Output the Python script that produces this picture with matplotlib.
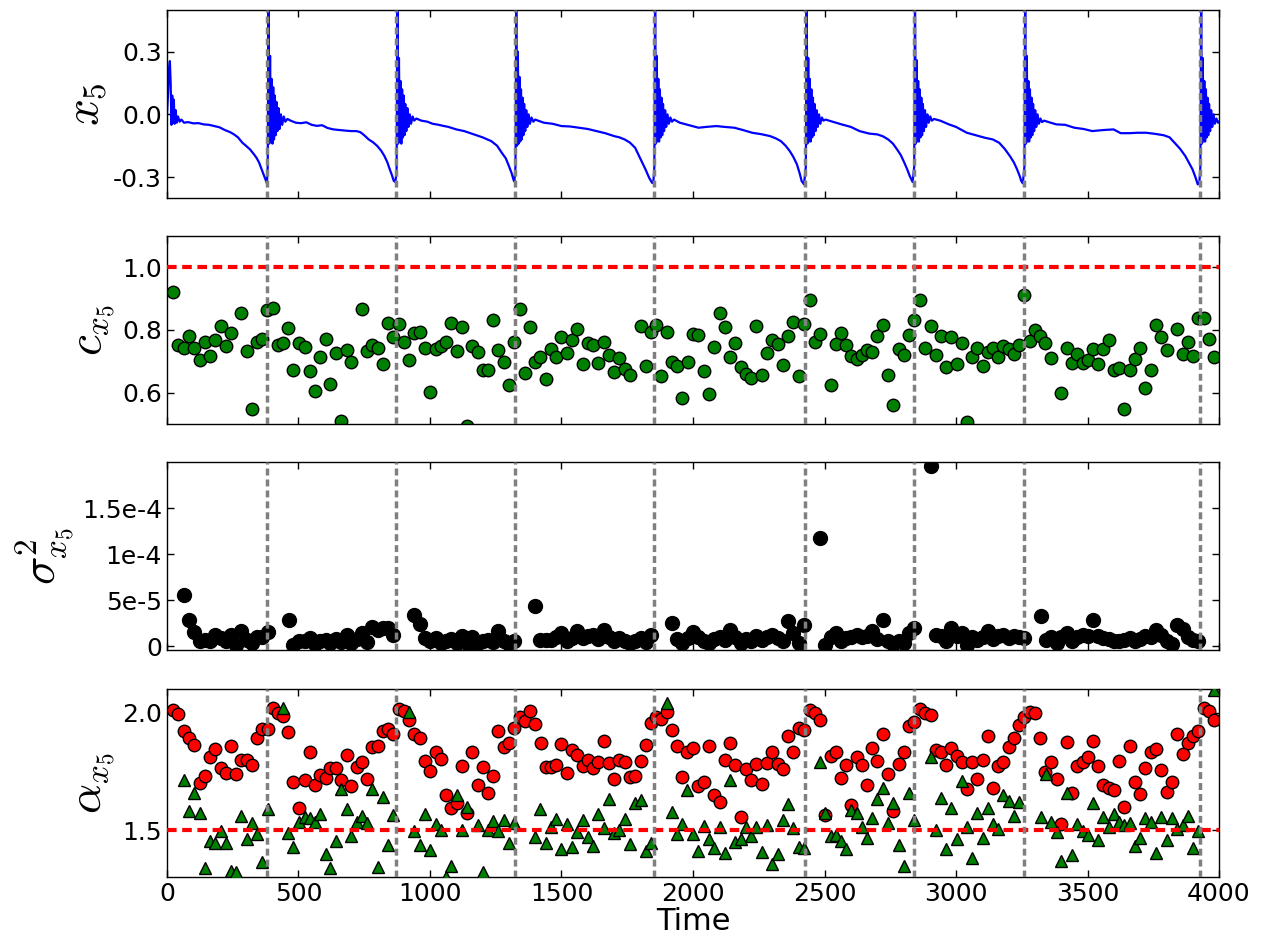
import numpy as np
import matplotlib
matplotlib.use("Agg")
from matplotlib import pyplot as plt
from matplotlib.ticker import FixedLocator, FixedFormatter

# Switching times (grey dashed lines)
switch_t = [380, 871, 1323, 1851, 2427, 2839, 3258, 3927]

# x_5 trajectory
x5_t = [0, 4, 8, 11, 14, 17, 20, 23, 26, 29, 33, 37, 42, 48, 55, 65, 80, 100, 120, 140,
        160, 180, 200, 220, 240, 255, 270, 287, 300, 316, 330, 340, 350, 360, 368, 376, 380,
        383, 386, 389, 392, 395, 398, 401, 404, 407, 410, 413, 416, 420, 424, 428, 433, 438, 444, 450, 458,
        470, 490, 510, 530, 550, 570, 590, 610, 633, 655, 680, 700, 720, 735, 750, 767, 785, 800, 815,
        827, 838, 847, 855, 862, 868,
        873, 876, 879, 882, 885, 888, 891, 894, 897, 900, 903, 906, 910, 914, 918, 923, 928, 934, 940, 948,
        967, 990, 1010, 1033, 1050, 1070, 1100, 1130, 1167, 1200, 1233, 1255, 1273, 1288, 1300, 1310, 1318, 1321,
        1325, 1328, 1331, 1334, 1337, 1340, 1343, 1346, 1349, 1352, 1355, 1358, 1362, 1366, 1370, 1375, 1380,
        1386, 1393, 1400,
        1433, 1466, 1500, 1533, 1567, 1600, 1633, 1666, 1700, 1720, 1740, 1760, 1780, 1795, 1807, 1820, 1833,
        1844, 1849,
        1853, 1856, 1859, 1862, 1865, 1868, 1871, 1874, 1877, 1880, 1883, 1886, 1890, 1894, 1898, 1903, 1908,
        1914, 1920, 1928,
        1950, 1980, 2021, 2050, 2089, 2120, 2157, 2190, 2225, 2260, 2293, 2315, 2334, 2352, 2368, 2382, 2395,
        2405, 2413, 2422,
        2429, 2432, 2435, 2438, 2441, 2444, 2447, 2450, 2453, 2456, 2459, 2462, 2466, 2470, 2474, 2479, 2484,
        2490, 2496, 2504,
        2530, 2565, 2600, 2633, 2670, 2701, 2722, 2742, 2760, 2776, 2790, 2803, 2815, 2824, 2835,
        2841, 2844, 2847, 2850, 2853, 2856, 2859, 2862, 2865, 2868, 2871, 2874, 2878, 2882, 2886, 2891, 2896,
        2902, 2908, 2916,
        2940, 2973, 3000, 3041, 3075, 3110, 3140, 3164, 3185, 3205, 3220, 3232, 3242, 3248, 3254,
        3260, 3263, 3266, 3269, 3272, 3275, 3278, 3281, 3284, 3287, 3290, 3293, 3297, 3301, 3305, 3310, 3315,
        3321, 3327, 3335,
        3360, 3382, 3415, 3450, 3485, 3518, 3560, 3599, 3626, 3660, 3690, 3722, 3755, 3790, 3812, 3831, 3852,
        3872, 3887, 3899, 3910, 3919, 3925,
        3929, 3932, 3935, 3938, 3941, 3944, 3947, 3950, 3953, 3956, 3959, 3962, 3966, 3970, 3974, 3979, 3984,
        3990, 3996, 4000]
x5_v = [0.0, 0.10, 0.22, 0.255, 0.15, -0.05, 0.09, -0.04, 0.07, -0.045, 0.02, -0.04, -0.01, -0.035, -0.025,
        -0.04, -0.037, -0.043, -0.042, -0.048, -0.05, -0.056, -0.062, -0.075, -0.085, -0.096, -0.11, -0.136,
        -0.15, -0.168, -0.19, -0.207, -0.23, -0.263, -0.29, -0.315, -0.33,
        -0.25, 0.6, -0.14, 0.28, -0.13, 0.17, -0.14, 0.13, -0.12, 0.09, -0.10, 0.06, -0.08, 0.03, -0.07, 0.0,
        -0.05, -0.01, -0.035, -0.022,
        -0.03, -0.04, -0.042, -0.038, -0.05, -0.055, -0.052, -0.065, -0.072, -0.075, -0.078, -0.08, -0.08,
        -0.085, -0.10, -0.12, -0.135, -0.152, -0.175, -0.20, -0.23, -0.263, -0.29, -0.318, -0.324,
        -0.28, 0.6, -0.14, 0.27, -0.13, 0.16, -0.14, 0.12, -0.11, 0.09, -0.10, 0.05, -0.08, 0.03, -0.06, 0.0,
        -0.045, -0.01, -0.03, -0.02,
        -0.03, -0.035, -0.045, -0.05, -0.055, -0.06, -0.072, -0.08, -0.096, -0.11, -0.128, -0.15, -0.184, -0.21,
        -0.247, -0.28, -0.315, -0.322,
        -0.25, 0.6, -0.15, 0.3, -0.14, 0.18, -0.13, 0.12, -0.12, 0.08, -0.10, 0.05, -0.08, 0.02, -0.06, 0.0,
        -0.045, -0.015, -0.035, -0.025,
        -0.04, -0.045, -0.056, -0.058, -0.064, -0.07, -0.08, -0.09, -0.104, -0.11, -0.12, -0.135, -0.16, -0.2,
        -0.231, -0.265, -0.303, -0.327, -0.33,
        -0.25, 0.6, -0.14, 0.28, -0.13, 0.17, -0.13, 0.12, -0.11, 0.08, -0.10, 0.05, -0.08, 0.02, -0.06, 0.0,
        -0.045, -0.015, -0.035, -0.025,
        -0.04, -0.05, -0.064, -0.06, -0.056, -0.06, -0.064, -0.075, -0.088, -0.095, -0.104, -0.115, -0.128,
        -0.15, -0.176, -0.205, -0.239, -0.28, -0.319, -0.335,
        -0.25, 0.6, -0.14, 0.27, -0.13, 0.17, -0.13, 0.12, -0.11, 0.08, -0.10, 0.05, -0.08, 0.02, -0.06, 0.0,
        -0.045, -0.015, -0.03, -0.025,
        -0.035, -0.048, -0.06, -0.08, -0.092, -0.096, -0.105, -0.12, -0.14, -0.168, -0.195, -0.23, -0.265,
        -0.295, -0.324,
        -0.25, 0.6, -0.14, 0.26, -0.13, 0.16, -0.13, 0.12, -0.11, 0.08, -0.10, 0.05, -0.08, 0.02, -0.06, 0.0,
        -0.04, -0.01, -0.03, -0.022,
        -0.03, -0.048, -0.06, -0.088, -0.10, -0.112, -0.12, -0.136, -0.165, -0.2, -0.23, -0.263, -0.295,
        -0.319, -0.33,
        -0.25, 0.6, -0.14, 0.28, -0.13, 0.16, -0.13, 0.12, -0.11, 0.08, -0.10, 0.05, -0.08, 0.02, -0.06, 0.0,
        -0.045, -0.02, -0.037, -0.03,
        -0.04, -0.048, -0.05, -0.064, -0.07, -0.08, -0.075, -0.072, -0.09, -0.09, -0.088, -0.088, -0.093, -0.10,
        -0.11, -0.136, -0.165, -0.2, -0.235, -0.263, -0.30, -0.335, -0.33,
        -0.25, 0.6, -0.14, 0.27, -0.13, 0.16, -0.13, 0.12, -0.11, 0.08, -0.10, 0.05, -0.08, 0.02, -0.06, 0.0,
        -0.045, -0.02, -0.04, -0.035]

# c_{x_5}
c_t = [23, 43, 63, 84, 104, 124, 143, 164, 184, 204, 224, 244, 283, 303, 323, 343, 363, 381, 403, 423,
       443, 461, 481, 501, 523, 543, 564, 583, 603, 621, 643, 661, 683, 701, 741, 761, 781, 803, 823, 841,
       861, 881, 901, 921, 941, 961, 981, 1000, 1021, 1041, 1060, 1081, 1103, 1123, 1140, 1161, 1181, 1201,
       1221, 1241, 1260, 1281, 1300, 1321, 1341, 1361, 1381, 1400, 1420, 1440, 1461, 1480, 1500, 1520, 1540,
       1560, 1580, 1599, 1620, 1639, 1660, 1679, 1699, 1720, 1741, 1761, 1801, 1820, 1840, 1860, 1880, 1900,
       1920, 1940, 1960, 1980, 2000, 2020, 2040, 2060, 2081, 2101, 2120, 2142, 2161, 2181, 2202, 2221, 2241,
       2262, 2282, 2301, 2322, 2342, 2363, 2382, 2402, 2421, 2443, 2462, 2482, 2523, 2542, 2563, 2582, 2602,
       2622, 2643, 2662, 2682, 2701, 2722, 2742, 2761, 2782, 2802, 2821, 2841, 2862, 2881, 2903, 2922, 2942,
       2961, 2982, 3002, 3022, 3041, 3062, 3081, 3101, 3120, 3141, 3161, 3180, 3200, 3221, 3240, 3259, 3281,
       3300, 3320, 3339, 3361, 3401, 3421, 3440, 3460, 3481, 3500, 3520, 3541, 3560, 3580, 3599, 3621, 3640,
       3661, 3681, 3701, 3720, 3742, 3761, 3781, 3802, 3841, 3862, 3881, 3902, 3920, 3941, 3961, 3980]
c_v = [0.921, 0.753, 0.742, 0.780, 0.742, 0.705, 0.762, 0.716, 0.769, 0.812, 0.749, 0.789, 0.854, 0.734,
       0.547, 0.761, 0.772, 0.864, 0.871, 0.751, 0.759, 0.807, 0.671, 0.759, 0.745, 0.668, 0.604, 0.715,
       0.772, 0.627, 0.727, 0.510, 0.737, 0.699, 0.867, 0.733, 0.751, 0.744, 0.690, 0.821, 0.777, 0.818,
       0.762, 0.703, 0.789, 0.793, 0.742, 0.602, 0.738, 0.749, 0.762, 0.822, 0.733, 0.809, 0.494, 0.749,
       0.730, 0.672, 0.673, 0.832, 0.736, 0.699, 0.625, 0.763, 0.867, 0.663, 0.811, 0.698, 0.714, 0.645,
       0.740, 0.715, 0.777, 0.728, 0.769, 0.802, 0.692, 0.759, 0.752, 0.694, 0.763, 0.720, 0.666, 0.710,
       0.674, 0.655, 0.812, 0.685, 0.795, 0.815, 0.652, 0.794, 0.699, 0.685, 0.584, 0.699, 0.786, 0.784,
       0.670, 0.597, 0.745, 0.853, 0.809, 0.715, 0.760, 0.682, 0.658, 0.647, 0.814, 0.656, 0.727, 0.767,
       0.754, 0.688, 0.782, 0.827, 0.653, 0.818, 0.895, 0.761, 0.786, 0.624, 0.756, 0.789, 0.752, 0.716,
       0.707, 0.720, 0.737, 0.729, 0.782, 0.815, 0.656, 0.560, 0.738, 0.719, 0.785, 0.833, 0.896, 0.742,
       0.813, 0.719, 0.780, 0.682, 0.778, 0.691, 0.759, 0.505, 0.714, 0.743, 0.685, 0.731, 0.743, 0.715,
       0.749, 0.740, 0.722, 0.751, 0.912, 0.764, 0.801, 0.780, 0.759, 0.709, 0.600, 0.743, 0.695, 0.723,
       0.695, 0.703, 0.738, 0.692, 0.738, 0.769, 0.673, 0.680, 0.547, 0.673, 0.706, 0.742, 0.616, 0.673,
       0.815, 0.778, 0.735, 0.804, 0.722, 0.763, 0.717, 0.838, 0.839, 0.771, 0.714]

# sigma^2_{x_5}, in units of 1e-5
var_t = [63, 84, 104, 124, 143, 164, 184, 204, 224, 244, 264, 283, 303, 323, 343, 363, 383, 463, 481, 501,
         523, 543, 564, 583, 603, 621, 643, 661, 683, 701, 721, 741, 761, 781, 803, 823, 841, 861, 941, 961,
         981, 1000, 1021, 1041, 1060, 1081, 1103, 1123, 1143, 1161, 1181, 1201, 1221, 1241, 1260, 1281, 1300,
         1321, 1401, 1420, 1440, 1461, 1480, 1500, 1520, 1540, 1560, 1580, 1599, 1620, 1639, 1660, 1679, 1699,
         1720, 1741, 1761, 1781, 1801, 1820, 1840, 1920, 1940, 1960, 1980, 2000, 2020, 2040, 2062, 2081, 2101,
         2120, 2142, 2161, 2181, 2202, 2221, 2241, 2262, 2282, 2301, 2322, 2342, 2363, 2382, 2402, 2421, 2482,
         2503, 2523, 2542, 2563, 2582, 2602, 2622, 2643, 2662, 2682, 2701, 2722, 2742, 2761, 2782, 2802, 2821,
         2841, 2903, 2922, 2942, 2961, 2982, 3002, 3022, 3041, 3062, 3081, 3101, 3120, 3141, 3161, 3180, 3200,
         3221, 3240, 3259, 3322, 3341, 3361, 3382, 3401, 3421, 3440, 3460, 3481, 3500, 3520, 3541, 3560, 3580,
         3599, 3621, 3640, 3661, 3681, 3701, 3720, 3742, 3761, 3781, 3802, 3821, 3841, 3862, 3881, 3902, 3920]
var_v = [5.62, 2.83, 1.56, 0.54, 0.72, 0.54, 1.27, 0.90, 0.60, 1.27, 0.20, 1.63, 0.72, 0.36, 0.98, 0.98,
         1.56, 2.90, 0.18, 0.54, 0.60, 0.90, 0.25, 0.60, 0.72, 0.36, 0.83, 0.47, 1.27, 0.36, 0.83, 1.45, 0.47,
         2.07, 1.81, 1.99, 1.99, 1.20, 3.37, 2.43, 0.90, 0.54, 0.90, 0.36, 0.54, 0.83, 0.36, 1.09, 0.25, 0.98,
         0.36, 0.54, 0.72, 0.47, 1.70, 0.54, 0.25, 0.54, 4.42, 0.72, 0.72, 0.72, 0.98, 1.45, 0.60, 0.90, 1.70,
         0.90, 1.09, 1.27, 0.83, 1.81, 0.98, 0.60, 0.90, 0.54, 0.36, 0.54, 0.90, 0.47, 1.20, 2.54, 0.83, 0.36,
         0.90, 1.56, 0.98, 0.54, 0.36, 0.83, 0.98, 0.72, 1.81, 0.98, 0.36, 0.83, 0.54, 1.09, 0.72, 0.98, 1.20,
         0.90, 0.54, 2.72, 1.45, 0.36, 2.36, 11.8, 0.18, 0.98, 1.45, 0.54, 0.90, 0.98, 1.27, 0.98, 1.09, 1.63,
         0.83, 2.90, 0.60, 0.25, 0.54, 0.36, 1.45, 1.99, 19.6, 1.27, 1.09, 0.54, 1.99, 1.09, 1.45, 0.18, 0.98,
         0.72, 0.98, 1.63, 0.83, 1.09, 1.27, 0.90, 1.09, 0.98, 0.90, 3.33, 0.72, 0.98, 0.36, 0.98, 1.45, 0.54,
         0.98, 1.27, 1.09, 2.83, 1.09, 0.90, 0.83, 0.54, 0.60, 0.72, 0.90, 0.54, 0.83, 1.09, 0.98, 1.81, 1.27,
         0.54, 0.25, 2.36, 1.92, 0.98, 0.72, 0.54]

# alpha_{x_5}: red circles
alpha_t = [23, 43, 63, 84, 104, 124, 143, 164, 184, 204, 224, 244, 264, 283, 303, 323, 343, 363, 383, 403,
           423, 443, 461, 481, 501, 523, 543, 564, 583, 603, 621, 643, 661, 683, 701, 721, 741, 761, 781, 803,
           823, 841, 861, 881, 901, 921, 941, 961, 981, 1000, 1021, 1041, 1060, 1081, 1103, 1121, 1141, 1161,
           1181, 1201, 1221, 1241, 1260, 1281, 1300, 1321, 1341, 1361, 1381, 1401, 1421, 1440, 1461, 1480, 1500,
           1520, 1540, 1560, 1580, 1599, 1620, 1639, 1660, 1679, 1699, 1720, 1741, 1761, 1781, 1801, 1820, 1840,
           1860, 1880, 1901, 1920, 1940, 1960, 1979, 1999, 2020, 2040, 2062, 2081, 2101, 2120, 2142, 2161, 2181,
           2202, 2221, 2241, 2262, 2282, 2301, 2322, 2342, 2363, 2382, 2402, 2421, 2443, 2462, 2482, 2503, 2523,
           2542, 2563, 2582, 2602, 2622, 2643, 2662, 2682, 2701, 2722, 2742, 2761, 2782, 2802, 2821, 2841, 2862,
           2881, 2903, 2922, 2942, 2961, 2982, 3002, 3022, 3041, 3062, 3081, 3101, 3120, 3141, 3161, 3180, 3200,
           3221, 3240, 3259, 3281, 3300, 3320, 3339, 3361, 3382, 3401, 3421, 3440, 3460, 3481, 3500, 3520, 3541,
           3560, 3580, 3599, 3621, 3640, 3661, 3681, 3701, 3720, 3741, 3761, 3781, 3802, 3821, 3841, 3862, 3881,
           3902, 3920, 3941, 3961, 3980]
alpha_v = [2.011, 1.994, 1.923, 1.892, 1.862, 1.700, 1.732, 1.811, 1.846, 1.764, 1.742, 1.858, 1.739, 1.799,
           1.799, 1.777, 1.890, 1.930, 1.932, 2.018, 2.000, 1.986, 1.916, 1.704, 1.595, 1.714, 1.832, 1.693,
           1.735, 1.721, 1.764, 1.764, 1.711, 1.820, 1.686, 1.770, 1.791, 1.718, 1.855, 1.858, 1.920, 1.930,
           1.909, 2.014, 2.008, 1.969, 1.909, 1.892, 1.795, 1.753, 1.832, 1.802, 1.648, 1.592, 1.616, 1.774,
           1.571, 1.834, 1.690, 1.767, 1.659, 1.732, 1.920, 1.853, 1.872, 1.934, 1.979, 1.965, 2.007, 1.953,
           1.872, 1.770, 1.770, 1.778, 1.867, 1.742, 1.839, 1.820, 1.774, 1.799, 1.764, 1.788, 1.878, 1.784,
           1.718, 1.799, 1.788, 1.725, 1.729, 1.795, 1.862, 1.955, 1.979, 1.973, 2.001, 1.927, 1.858, 1.725,
           1.830, 1.851, 1.686, 1.704, 1.858, 1.648, 1.620, 1.797, 1.872, 1.778, 1.554, 1.760, 1.715, 1.781,
           1.697, 1.784, 1.834, 1.781, 1.760, 1.899, 1.834, 1.934, 1.927, 2.011, 1.997, 1.969, 1.564, 1.816,
           1.832, 1.721, 1.778, 1.606, 1.809, 1.777, 1.693, 1.848, 1.795, 1.909, 1.739, 1.581, 1.781, 1.832,
           1.941, 1.958, 2.014, 1.997, 1.990, 1.839, 1.832, 1.777, 1.851, 1.813, 1.790, 1.676, 1.790, 1.718,
           1.797, 1.899, 1.680, 1.774, 1.788, 1.853, 1.892, 1.948, 1.983, 2.001, 2.000, 1.892, 1.746, 1.788,
           1.718, 1.527, 1.876, 1.658, 1.774, 1.788, 1.809, 1.878, 1.774, 1.690, 1.680, 1.669, 1.795, 1.596,
           1.858, 1.704, 1.655, 1.763, 1.834, 1.844, 1.756, 1.662, 1.704, 1.909, 1.825, 1.872, 1.902, 1.923,
           2.018, 2.008, 1.969]

# alpha_{x_5}: green triangles
alpha2_t = [63, 84, 104, 124, 143, 164, 184, 204, 224, 244, 264, 283, 303, 323, 343, 363, 383, 443, 461, 481,
            501, 523, 543, 564, 583, 603, 621, 643, 661, 683, 701, 721, 741, 761, 781, 803, 823, 841, 861, 921,
            941, 961, 981, 1000, 1021, 1041, 1060, 1081, 1103, 1121, 1141, 1181, 1201, 1221, 1241, 1260, 1281,
            1300, 1321, 1401, 1420, 1440, 1461, 1480, 1500, 1520, 1540, 1560, 1580, 1599, 1620, 1639, 1660, 1679,
            1699, 1720, 1741, 1761, 1781, 1801, 1820, 1840, 1900, 1920, 1940, 1960, 1979, 2000, 2020, 2040, 2062,
            2081, 2101, 2120, 2142, 2161, 2181, 2202, 2221, 2241, 2262, 2282, 2301, 2322, 2342, 2363, 2382, 2402,
            2421, 2482, 2503, 2523, 2542, 2563, 2582, 2602, 2622, 2643, 2662, 2682, 2701, 2722, 2742, 2761, 2782,
            2802, 2821, 2841, 2903, 2922, 2942, 2961, 2982, 3002, 3022, 3041, 3062, 3081, 3101, 3120, 3141, 3161,
            3180, 3200, 3221, 3240, 3322, 3341, 3361, 3382, 3401, 3421, 3441, 3460, 3481, 3501, 3520, 3541, 3560,
            3580, 3599, 3621, 3640, 3661, 3681, 3701, 3720, 3742, 3761, 3781, 3802, 3821, 3841, 3862, 3881, 3902,
            3920, 3980]
alpha2_v = [1.714, 1.582, 1.658, 1.571, 1.337, 1.453, 1.446, 1.494, 1.443, 1.327, 1.323, 1.560, 1.462, 1.529,
            1.485, 1.365, 1.588, 2.021, 1.487, 1.429, 1.536, 1.554, 1.553, 1.536, 1.567, 1.397, 1.337, 1.455,
            1.676, 1.588, 1.473, 1.536, 1.560, 1.532, 1.673, 1.344, 1.641, 1.436, 1.564, 2.004, 1.497, 1.436,
            1.568, 1.415, 1.527, 1.499, 1.299, 1.345, 1.648, 1.501, 1.596, 1.522, 1.320, 1.499, 1.539, 1.494,
            1.543, 1.443, 1.529, 1.471, 1.588, 1.443, 1.515, 1.546, 1.420, 1.525, 1.429, 1.490, 1.541, 1.471,
            1.432, 1.567, 1.508, 1.634, 1.487, 1.501, 1.546, 1.439, 1.613, 1.627, 1.411, 1.446, 2.039, 1.578,
            1.485, 1.527, 1.669, 1.485, 1.411, 1.518, 1.462, 1.425, 1.511, 1.401, 1.711, 1.448, 1.462, 1.515,
            1.476, 1.511, 1.406, 1.520, 1.355, 1.397, 1.543, 1.609, 1.508, 1.429, 1.425, 1.790, 1.574, 1.476,
            1.480, 1.453, 1.420, 1.585, 1.571, 1.513, 1.466, 1.553, 1.634, 1.680, 1.532, 1.616, 1.436, 1.348,
            1.658, 1.543, 1.811, 1.499, 1.638, 1.418, 1.595, 1.462, 1.707, 1.513, 1.383, 1.571, 1.466, 1.592,
            1.525, 1.504, 1.648, 1.623, 1.560, 1.620, 1.557, 1.739, 1.536, 1.490, 1.369, 1.658, 1.392, 1.527,
            1.497, 1.480, 1.616, 1.457, 1.557, 1.513, 1.567, 1.536, 1.522, 1.529, 1.432, 1.466, 1.553, 1.536,
            1.401, 1.554, 1.457, 1.550, 1.506, 1.522, 1.561, 1.425, 1.497, 2.095]

plt.rcParams["mathtext.fontset"] = "cm"
plt.rcParams["axes.unicode_minus"] = False
plt.rcParams["font.size"] = 18

fig = plt.figure(figsize=(12.63, 9.38), dpi=100)
bottoms = [0.789, 0.548, 0.307, 0.065]
axes = [fig.add_axes([0.1322, b, 0.8330, 0.2004]) for b in bottoms]

ax = axes[0]
ax.plot(x5_t, x5_v, color="blue", linewidth=1.6)
ax.set_ylim(-0.4, 0.5)
ax.yaxis.set_major_locator(FixedLocator([-0.3, 0.0, 0.3]))
ax.yaxis.set_major_formatter(FixedFormatter(["-0.3", "0.0", "0.3"]))
ax.set_ylabel(r"$x_5$", fontsize=34)

ax = axes[1]
ax.plot(c_t, c_v, "o", color="green", markeredgecolor="black", markersize=9, markeredgewidth=1)
ax.axhline(1.0, color="red", linewidth=3, linestyle=(0, (2.3, 1.35)), zorder=4)
ax.set_ylim(0.5, 1.1)
ax.yaxis.set_major_locator(FixedLocator([0.6, 0.8, 1.0]))
ax.yaxis.set_major_formatter(FixedFormatter(["0.6", "0.8", "1.0"]))
ax.set_ylabel(r"$c_{x_5}$", fontsize=34)

ax = axes[2]
ax.plot(var_t, np.array(var_v) * 1e-5, "o", color="black", markersize=10)
ax.set_ylim(-4e-6, 2e-4)
ax.yaxis.set_major_locator(FixedLocator([0, 5e-5, 1e-4, 1.5e-4]))
ax.yaxis.set_major_formatter(FixedFormatter(["0", "5e-5", "1e-4", "1.5e-4"]))
ax.set_ylabel(r"$\sigma^2_{x_5}$", fontsize=34)

ax = axes[3]
ax.plot(alpha_t, alpha_v, "o", color="red", markeredgecolor="black", markersize=9, markeredgewidth=1, zorder=2)
ax.plot(alpha2_t, alpha2_v, "^", color="green", markeredgecolor="black", markersize=9, markeredgewidth=1, zorder=3)
ax.axhline(1.5, color="red", linewidth=3, linestyle=(0, (2.3, 1.35)), zorder=4)
ax.set_ylim(1.3, 2.1)
ax.yaxis.set_major_locator(FixedLocator([1.5, 2.0]))
ax.yaxis.set_major_formatter(FixedFormatter(["1.5", "2.0"]))
ax.set_ylabel(r"$\alpha_{x_5}$", fontsize=34)
ax.set_xlabel("Time", fontsize=22, labelpad=0.5)

for i, ax in enumerate(axes):
    for t in switch_t:
        ax.axvline(t, color="gray", linewidth=2.5, linestyle=(0, (2, 1.15)), zorder=5)
    ax.set_xlim(0, 4000)
    ax.set_xticks(np.arange(0, 4001, 500))
    if i < 3:
        ax.set_xticklabels([])
    ax.tick_params(direction="in", top=True, right=True, length=5, width=1, labelsize=18)
    for s in ax.spines.values():
        s.set_linewidth(1)

fig.savefig("out.png", dpi=100)
